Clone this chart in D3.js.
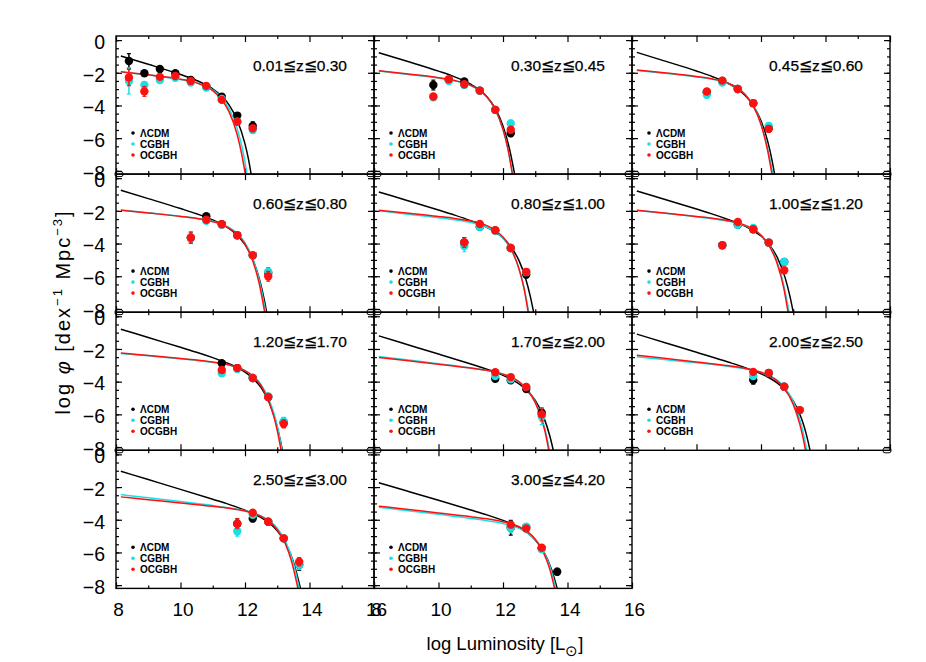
<!DOCTYPE html>
<html>
<head>
<meta charset="utf-8">
<script src="https://cdn.jsdelivr.net/npm/d3@7"></script>
<style>
  body { margin: 0; background: #fff; }
  svg { display: block; }
</style>
</head>
<body>
<div id="figure"></div>
<script>
var zLabels = ["0.01≦z≦0.30", "0.30≦z≦0.45", "0.45≦z≦0.60",
               "0.60≦z≦0.80", "0.80≦z≦1.00", "1.00≦z≦1.20",
               "1.20≦z≦1.70", "1.70≦z≦2.00", "2.00≦z≦2.50",
               "2.50≦z≦3.00", "3.00≦z≦4.20"];

var modelNames = ["ΛCDM", "CGBH", "OCGBH"];
var modelColors = ["#000000", "#17e0e6", "#ff1010"];

var xTicks = [8, 10, 12, 14, 16];
var xMinor = [9, 11, 13, 15];
var yTicks = [0, -2, -4, -6, -8];

// fitted curves, one list per panel: [log L, log phi]
var lcdmFit = [
  [[8.15,-0.97],[9,-1.48],[10,-2.11],[10.5,-2.47],[11,-2.99],[11.25,-3.38],[11.5,-3.95],[11.75,-4.86],[12,-6.35],[12.1,-7.21],[12.19,-8.2]],
  [[8.15,-0.77],[9,-1.28],[10,-1.9],[10.5,-2.25],[11,-2.7],[11.25,-3.02],[11.5,-3.47],[11.75,-4.15],[12,-5.26],[12.2,-6.65],[12.36,-8.2]],
  [[8.15,-0.75],[9,-1.27],[10,-1.89],[10.5,-2.24],[11,-2.67],[11.25,-2.96],[11.5,-3.38],[11.75,-3.98],[12,-4.94],[12.2,-6.14],[12.35,-7.44],[12.42,-8.2]],
  [[8.15,-0.74],[9,-1.25],[10,-1.86],[10.5,-2.18],[11,-2.55],[11.25,-2.78],[11.5,-3.07],[11.75,-3.47],[12,-4.07],[12.25,-5.01],[12.45,-6.19],[12.6,-7.46],[12.67,-8.2]],
  [[8.15,-0.84],[9,-1.35],[10,-1.95],[10.5,-2.26],[11,-2.6],[11.25,-2.79],[11.5,-3.01],[11.75,-3.29],[12,-3.66],[12.25,-4.21],[12.5,-5.06],[12.7,-6.12],[12.85,-7.26],[12.95,-8.2]],
  [[8.15,-0.78],[9,-1.29],[10,-1.89],[10.5,-2.2],[11,-2.54],[11.25,-2.72],[11.5,-2.93],[11.75,-3.2],[12,-3.54],[12.25,-4.05],[12.5,-4.83],[12.75,-6.1],[12.9,-7.25],[13.0,-8.2]],
  [[8.15,-0.79],[9,-1.3],[10,-1.9],[10.5,-2.2],[11,-2.53],[11.5,-2.9],[11.75,-3.12],[12,-3.41],[12.25,-3.8],[12.5,-4.37],[12.75,-5.28],[12.95,-6.41],[13.1,-7.63],[13.16,-8.2]],
  [[8.15,-1.2],[9,-1.71],[10,-2.31],[11,-2.92],[11.5,-3.24],[12,-3.61],[12.25,-3.84],[12.5,-4.14],[12.75,-4.55],[13,-5.15],[13.25,-6.11],[13.45,-7.31],[13.56,-8.2]],
  [[8.15,-1.09],[9,-1.6],[10,-2.2],[11,-2.81],[11.5,-3.14],[12,-3.52],[12.25,-3.76],[12.5,-4.07],[12.75,-4.51],[13,-5.17],[13.25,-6.23],[13.4,-7.18],[13.52,-8.2]],
  [[8.15,-1.03],[9,-1.54],[10,-2.14],[11,-2.75],[11.5,-3.06],[12,-3.41],[12.25,-3.62],[12.5,-3.87],[12.75,-4.2],[13,-4.68],[13.25,-5.4],[13.5,-6.57],[13.72,-8.2]],
  [[8.15,-1.74],[9,-2.23],[10,-2.81],[11,-3.4],[11.5,-3.7],[12,-4.04],[12.25,-4.23],[12.5,-4.48],[12.75,-4.79],[13,-5.24],[13.25,-5.91],[13.5,-7.02],[13.68,-8.2]]
];

var cgbhFit = [
  [[8.15,-1.95],[9,-2.14],[10,-2.41],[10.5,-2.62],[11,-3.05],[11.25,-3.47],[11.5,-4.16],[11.75,-5.37],[11.9,-6.48],[12,-7.46],[12.06,-8.2]],
  [[8.15,-1.89],[9,-2.09],[10,-2.32],[10.5,-2.49],[11,-2.79],[11.25,-3.06],[11.5,-3.49],[11.75,-4.22],[12,-5.48],[12.15,-6.64],[12.3,-8.2]],
  [[8.15,-1.86],[9,-2.03],[10,-2.26],[10.5,-2.4],[11,-2.67],[11.25,-2.91],[11.5,-3.31],[11.75,-3.97],[12,-5.1],[12.2,-6.6],[12.37,-8.2]],
  [[8.15,-1.95],[9,-2.12],[10,-2.33],[10.5,-2.45],[11,-2.64],[11.25,-2.78],[11.5,-3.01],[11.75,-3.36],[12,-3.95],[12.25,-4.97],[12.45,-6.3],[12.6,-7.75],[12.64,-8.2]],
  [[8.15,-2.0],[9,-2.19],[10,-2.42],[10.5,-2.55],[11,-2.71],[11.25,-2.83],[11.5,-3.0],[11.75,-3.26],[12,-3.68],[12.25,-4.37],[12.5,-5.58],[12.65,-6.69],[12.8,-8.2]],
  [[8.15,-1.98],[9,-2.15],[10,-2.36],[10.5,-2.48],[11,-2.64],[11.25,-2.75],[11.5,-2.9],[11.75,-3.12],[12,-3.48],[12.25,-4.08],[12.5,-5.12],[12.7,-6.48],[12.87,-8.2]],
  [[8.15,-2.27],[9,-2.42],[10,-2.6],[10.5,-2.7],[11,-2.82],[11.5,-2.98],[11.75,-3.12],[12,-3.32],[12.25,-3.64],[12.5,-4.18],[12.75,-5.12],[12.9,-5.95],[13.0,-6.72],[13.15,-8.2]],
  [[8.15,-2.46],[9,-2.66],[10,-2.9],[11,-3.16],[11.5,-3.31],[12,-3.54],[12.25,-3.73],[12.5,-4.01],[12.75,-4.47],[13,-5.23],[13.2,-6.22],[13.3,-6.9],[13.44,-8.2]],
  [[8.15,-2.48],[9,-2.65],[10,-2.85],[11,-3.07],[11.5,-3.21],[12,-3.43],[12.25,-3.62],[12.5,-3.91],[12.75,-4.4],[13,-5.22],[13.2,-6.3],[13.3,-7.05],[13.42,-8.2]],
  [[8.15,-2.46],[9,-2.66],[10,-2.89],[11,-3.13],[11.5,-3.27],[12,-3.44],[12.25,-3.58],[12.5,-3.76],[12.75,-4.05],[13,-4.51],[13.25,-5.29],[13.5,-6.64],[13.68,-8.2]],
  [[8.15,-3.23],[9,-3.43],[10,-3.67],[11,-3.92],[11.5,-4.06],[12,-4.23],[12.25,-4.36],[12.5,-4.53],[12.75,-4.8],[13,-5.22],[13.25,-5.92],[13.45,-6.83],[13.64,-8.2]]
];

var ocgbhFit = [
  [[8.15,-1.93],[9,-2.12],[10,-2.39],[10.5,-2.62],[11,-3.09],[11.25,-3.57],[11.5,-4.36],[11.75,-5.73],[11.9,-7.0],[12.01,-8.2]],
  [[8.15,-1.87],[9,-2.06],[10,-2.3],[10.5,-2.47],[11,-2.77],[11.25,-3.04],[11.5,-3.47],[11.75,-4.2],[12,-5.46],[12.15,-6.62],[12.29,-8.2]],
  [[8.15,-1.83],[9,-2.0],[10,-2.23],[10.5,-2.38],[11,-2.65],[11.25,-2.9],[11.5,-3.31],[11.75,-3.99],[12,-5.16],[12.2,-6.7],[12.34,-8.2]],
  [[8.15,-1.96],[9,-2.13],[10,-2.34],[10.5,-2.47],[11,-2.66],[11.25,-2.81],[11.5,-3.05],[11.75,-3.42],[12,-4.04],[12.25,-5.11],[12.45,-6.52],[12.61,-8.2]],
  [[8.15,-1.96],[9,-2.13],[10,-2.34],[10.5,-2.46],[11,-2.62],[11.25,-2.73],[11.5,-2.9],[11.75,-3.17],[12,-3.6],[12.25,-4.32],[12.5,-5.57],[12.65,-6.73],[12.78,-8.2]],
  [[8.15,-1.96],[9,-2.13],[10,-2.34],[10.5,-2.45],[11,-2.61],[11.25,-2.72],[11.5,-2.87],[11.75,-3.1],[12,-3.49],[12.25,-4.12],[12.5,-5.22],[12.7,-6.66],[12.84,-8.2]],
  [[8.15,-2.25],[9,-2.4],[10,-2.58],[10.5,-2.68],[11,-2.8],[11.5,-2.97],[11.75,-3.12],[12,-3.33],[12.25,-3.68],[12.5,-4.25],[12.75,-5.26],[12.9,-6.17],[13.0,-6.99],[13.12,-8.2]],
  [[8.15,-2.52],[9,-2.71],[10,-2.93],[11,-3.17],[11.5,-3.31],[12,-3.54],[12.25,-3.72],[12.5,-4.01],[12.75,-4.48],[13,-5.28],[13.2,-6.31],[13.3,-7.02],[13.42,-8.2]],
  [[8.15,-2.38],[9,-2.57],[10,-2.79],[11,-3.03],[11.5,-3.18],[12,-3.42],[12.25,-3.63],[12.5,-3.95],[12.75,-4.49],[13,-5.39],[13.2,-6.58],[13.3,-7.39],[13.38,-8.2]],
  [[8.15,-2.6],[9,-2.77],[10,-2.97],[11,-3.18],[11.5,-3.3],[12,-3.47],[12.25,-3.6],[12.5,-3.8],[12.75,-4.1],[13,-4.61],[13.25,-5.47],[13.45,-6.59],[13.64,-8.2]],
  [[8.15,-3.17],[9,-3.36],[10,-3.58],[11,-3.81],[11.5,-3.94],[12,-4.12],[12.25,-4.24],[12.5,-4.43],[12.75,-4.71],[13,-5.19],[13.25,-5.98],[13.45,-7.02],[13.6,-8.2]]
];

// measured points: [log L, log phi, error]
var lcdmData = [
  [[8.40,-1.28,0.45],[8.88,-2.03,0.15],[9.36,-1.77,0.08],[9.84,-2.03,0.08],[10.32,-2.44,0.08],[10.80,-2.85,0.08],[11.28,-3.46,0.1],[11.76,-4.62,0.15],[12.24,-5.25,0.25]],
  [[9.84,-2.75,0.3],[10.32,-2.45,0.05],[10.80,-2.53,0.05],[11.28,-3.09,0.05],[11.76,-4.27,0.1],[12.24,-5.7,0.2]],
  [[10.32,-3.2,0.15],[10.80,-2.5,0.05],[11.28,-2.99,0.05],[11.76,-3.86,0.08],[12.24,-5.4,0.2]],
  [[10.32,-3.64,0.3],[10.80,-2.33,0.05],[11.28,-2.82,0.05],[11.76,-3.49,0.05],[12.24,-4.72,0.1],[12.72,-5.8,0.3]],
  [[10.80,-3.94,0.3],[11.28,-2.98,0.05],[11.76,-3.2,0.05],[12.24,-4.27,0.08],[12.72,-5.9,0.2]],
  [[10.80,-4.1,0.15],[11.28,-2.85,0.05],[11.76,-3.12,0.05],[12.24,-3.94,0.05],[12.72,-5.12,0.1]],
  [[11.28,-2.87,0.1],[11.76,-3.17,0.05],[12.24,-3.78,0.05],[12.72,-4.94,0.1],[13.20,-6.5,0.3]],
  [[11.76,-3.82,0.1],[12.24,-3.92,0.05],[12.72,-4.45,0.08],[13.20,-5.9,0.25]],
  [[11.76,-3.9,0.25],[12.24,-3.5,0.05],[12.72,-4.31,0.08],[13.20,-5.74,0.1]],
  [[11.76,-4.25,0.3],[12.24,-3.92,0.2],[12.72,-4.12,0.08],[13.20,-5.14,0.1],[13.68,-6.75,0.35]],
  [[12.24,-4.49,0.45],[12.72,-4.45,0.1],[13.20,-5.75,0.1],[13.68,-7.18,0.2]]
];

var cgbhData = [
  [[8.40,-2.5,0.8],[8.88,-2.74,0.2],[9.36,-2.44,0.1],[9.84,-2.3,0.1],[10.32,-2.6,0.08],[10.80,-2.9,0.08],[11.28,-3.6,0.1],[11.76,-5.0,0.15],[12.24,-5.5,0.2]],
  [[9.84,-3.5,0.15],[10.32,-2.5,0.05],[10.80,-2.75,0.05],[11.28,-3.09,0.05],[11.76,-4.27,0.1],[12.24,-5.1,0.2]],
  [[10.32,-3.35,0.2],[10.80,-2.6,0.05],[11.28,-2.99,0.05],[11.76,-3.86,0.08],[12.24,-5.25,0.2]],
  [[10.32,-3.64,0.3],[10.80,-2.6,0.05],[11.28,-2.85,0.05],[11.76,-3.5,0.05],[12.24,-4.72,0.1],[12.72,-5.73,0.2]],
  [[10.80,-4.15,0.35],[11.28,-2.98,0.05],[11.76,-3.2,0.05],[12.24,-4.27,0.08],[12.72,-5.75,0.2]],
  [[10.80,-4.1,0.15],[11.28,-2.85,0.05],[11.76,-3.05,0.05],[12.24,-3.94,0.05],[12.72,-5.12,0.1]],
  [[11.28,-3.48,0.15],[11.76,-3.22,0.05],[12.24,-3.78,0.05],[12.72,-4.9,0.1],[13.20,-6.43,0.25]],
  [[11.76,-3.65,0.1],[12.24,-3.85,0.05],[12.72,-4.33,0.08],[13.20,-6.13,0.5]],
  [[11.76,-3.65,0.15],[12.24,-3.46,0.05],[12.72,-4.31,0.08],[13.20,-5.74,0.1]],
  [[11.76,-4.7,0.3],[12.24,-3.7,0.1],[12.72,-4.12,0.08],[13.20,-5.14,0.1],[13.68,-6.75,0.3]],
  [[12.24,-4.49,0.3],[12.72,-4.43,0.1],[13.20,-5.8,0.1]]
];

var ocgbhData = [
  [[8.40,-2.29,0.5],[8.88,-3.14,0.3],[9.36,-2.25,0.1],[9.84,-2.2,0.1],[10.32,-2.5,0.08],[10.80,-2.8,0.08],[11.28,-3.66,0.1],[11.76,-5.0,0.15],[12.24,-5.4,0.2]],
  [[9.84,-3.45,0.15],[10.32,-2.4,0.05],[10.80,-2.7,0.05],[11.28,-3.09,0.05],[11.76,-4.27,0.1],[12.24,-5.49,0.2]],
  [[10.32,-3.15,0.15],[10.80,-2.48,0.05],[11.28,-2.99,0.05],[11.76,-3.86,0.08],[12.24,-5.43,0.2]],
  [[10.32,-3.64,0.35],[10.80,-2.54,0.05],[11.28,-2.82,0.05],[11.76,-3.49,0.05],[12.24,-4.72,0.1],[12.72,-6.0,0.3]],
  [[10.80,-3.94,0.3],[11.28,-2.8,0.05],[11.76,-3.18,0.05],[12.24,-4.27,0.08],[12.72,-5.73,0.2]],
  [[10.80,-4.1,0.15],[11.28,-2.68,0.05],[11.76,-3.12,0.05],[12.24,-3.94,0.05],[12.72,-5.63,0.15]],
  [[11.28,-3.29,0.15],[11.76,-3.17,0.05],[12.24,-3.78,0.05],[12.72,-4.94,0.1],[13.20,-6.58,0.25]],
  [[11.76,-3.42,0.08],[12.24,-3.72,0.05],[12.72,-4.33,0.08],[13.20,-6.0,0.4]],
  [[11.76,-3.4,0.1],[12.24,-3.46,0.05],[12.72,-4.31,0.08],[13.20,-5.74,0.1]],
  [[11.76,-4.25,0.3],[12.24,-3.57,0.08],[12.72,-4.12,0.08],[13.20,-5.14,0.1],[13.68,-6.57,0.25]],
  [[12.24,-4.3,0.1],[12.72,-4.53,0.1],[13.20,-5.71,0.1]]
];

var W = 926, H = 662;
var gauche = 116, haut = 36, largeur = 258, hauteur = 138.1;
var police = "'Liberation Sans', Arial, Helvetica, sans-serif";

var svg = d3.select("#figure").append("svg").attr("width", W).attr("height", H);
var defs = svg.append("defs");

var fits = [lcdmFit, cgbhFit, ocgbhFit];
var donnees = [lcdmData, cgbhData, ocgbhData];

function styleAxe(g) {
    g.select(".domain").remove();
    g.selectAll("line").attr("stroke", "#000").attr("stroke-width", 1.2);
}

for (var i = 0; i < zLabels.length; i++) {
    var col = i % 3;
    var ligne = Math.floor(i / 3);
    var x0 = gauche + col * largeur;
    var y0 = haut + ligne * hauteur;

    var x = d3.scaleLinear().domain([8, 16]).range([x0, x0 + largeur]);
    var y = d3.scaleLinear().domain([-8.2, 0.25]).range([y0 + hauteur, y0]);

    defs.append("clipPath").attr("id", "clip" + i)
        .append("rect").attr("x", x0).attr("y", y0).attr("width", largeur).attr("height", hauteur);

    var panneau = svg.append("g");

    // ticks pointing inward on all four sides
    var yMinor = d3.range(-8, 0.01, 0.5);
    panneau.append("g").attr("transform", "translate(" + x0 + ",0)")
        .call(d3.axisLeft(y).tickValues(yMinor).tickSize(-3).tickFormat("")).call(styleAxe);
    panneau.append("g").attr("transform", "translate(" + x0 + ",0)")
        .call(d3.axisLeft(y).tickValues(yTicks).tickSize(-6).tickFormat("")).call(styleAxe);
    panneau.append("g").attr("transform", "translate(" + (x0 + largeur) + ",0)")
        .call(d3.axisRight(y).tickValues(yMinor).tickSize(-3).tickFormat("")).call(styleAxe);
    panneau.append("g").attr("transform", "translate(" + (x0 + largeur) + ",0)")
        .call(d3.axisRight(y).tickValues(yTicks).tickSize(-6).tickFormat("")).call(styleAxe);
    panneau.append("g").attr("transform", "translate(0," + (y0 + hauteur) + ")")
        .call(d3.axisBottom(x).tickValues(xMinor).tickSize(-3).tickFormat("")).call(styleAxe);
    panneau.append("g").attr("transform", "translate(0," + (y0 + hauteur) + ")")
        .call(d3.axisBottom(x).tickValues(xTicks).tickSize(-6).tickFormat("")).call(styleAxe);
    panneau.append("g").attr("transform", "translate(0," + y0 + ")")
        .call(d3.axisTop(x).tickValues(xMinor).tickSize(-3).tickFormat("")).call(styleAxe);
    panneau.append("g").attr("transform", "translate(0," + y0 + ")")
        .call(d3.axisTop(x).tickValues(xTicks).tickSize(-6).tickFormat("")).call(styleAxe);

    if (col == 0) {
        panneau.append("g").attr("transform", "translate(" + x0 + ",2)")
            .call(d3.axisLeft(y).tickValues(yTicks).tickSize(0).tickPadding(11))
            .call(function(g) {
                g.select(".domain").remove();
                g.selectAll("text").attr("font-family", police).attr("font-size", 19.5).attr("fill", "#000");
            });
    }
    if (ligne == 3) {
        panneau.append("g").attr("transform", "translate(2," + (y0 + hauteur) + ")")
            .call(d3.axisBottom(x).tickValues(xTicks).tickSize(0).tickPadding(14))
            .call(function(g) {
                g.select(".domain").remove();
                g.selectAll("text").attr("font-family", police).attr("font-size", 19).attr("fill", "#000");
            });
    }

    // model curves
    var courbe = d3.line().x(function(d) { return x(d[0]); }).y(function(d) { return y(d[1]); })
        .curve(d3.curveMonotoneX);
    var zone = panneau.append("g").attr("clip-path", "url(#clip" + i + ")");
    for (var m = 0; m < 3; m++) {
        zone.append("path").attr("d", courbe(fits[m][i]))
            .attr("fill", "none").attr("stroke", modelColors[m]).attr("stroke-width", 1.5);
    }

    // data points with error bars
    for (var m = 0; m < 3; m++) {
        var pts = donnees[m][i];
        for (var p = 0; p < pts.length; p++) {
            var px = x(pts[p][0]);
            var haute = y(pts[p][1] + pts[p][2]);
            var basse = y(pts[p][1] - pts[p][2]);
            zone.append("line").attr("x1", px).attr("x2", px).attr("y1", haute).attr("y2", basse)
                .attr("stroke", modelColors[m]).attr("stroke-width", 1.5);
            zone.append("line").attr("x1", px - 2).attr("x2", px + 2).attr("y1", haute).attr("y2", haute)
                .attr("stroke", modelColors[m]).attr("stroke-width", 1.2);
            zone.append("line").attr("x1", px - 2).attr("x2", px + 2).attr("y1", basse).attr("y2", basse)
                .attr("stroke", modelColors[m]).attr("stroke-width", 1.2);
            zone.append("circle").attr("cx", px).attr("cy", y(pts[p][1])).attr("r", 4.2)
                .attr("fill", modelColors[m]);
        }
    }

    // frame
    panneau.append("rect").attr("x", x0).attr("y", y0).attr("width", largeur).attr("height", hauteur)
        .attr("fill", "none").attr("stroke", "#000").attr("stroke-width", 1.4);

    // little marks at the lower corners, where panels meet
    if (ligne < 3) {
        panneau.append("rect").attr("x", x0 - 1).attr("y", y0 + hauteur - 2.5).attr("width", 8).attr("height", 5)
            .attr("rx", 2).attr("fill", "none").attr("stroke", "#000").attr("stroke-width", 1);
        panneau.append("rect").attr("x", x0 + largeur - 7).attr("y", y0 + hauteur - 2.5).attr("width", 8).attr("height", 5)
            .attr("rx", 2).attr("fill", "none").attr("stroke", "#000").attr("stroke-width", 1);
    }

    // redshift label
    panneau.append("text").attr("x", x0 + largeur - 27).attr("y", y0 + 34.5)
        .attr("text-anchor", "end").attr("font-family", police).attr("font-size", 15.5)
        .attr("stroke", "#000").attr("stroke-width", 0.25)
        .text(zLabels[i]);

    // legend
    for (var m = 0; m < 3; m++) {
        var ly = y0 + 97 + m * 11;
        panneau.append("circle").attr("cx", x0 + 17).attr("cy", ly).attr("r", 1.8).attr("fill", modelColors[m]);
        panneau.append("text").attr("x", x0 + 24).attr("y", ly + 3.5)
            .attr("font-family", police).attr("font-size", 10).attr("font-weight", "bold")
            .text(modelNames[m]);
    }
}

// axis titles
var titreX = svg.append("text").attr("x", 505).attr("y", 650).attr("text-anchor", "middle")
    .attr("font-family", police).attr("font-size", 18.5);
titreX.append("tspan").text("log Luminosity [L");
titreX.append("tspan").attr("dy", 6).attr("font-size", 15).text("⊙");
titreX.append("tspan").attr("dy", -6).text("]");

var titreY = svg.append("text").attr("transform", "translate(70,312) rotate(-90)").attr("text-anchor", "middle")
    .attr("font-family", police).attr("font-size", 20).attr("letter-spacing", 2);
titreY.append("tspan").text("log ");
titreY.append("tspan").attr("font-style", "italic").text("φ");
titreY.append("tspan").text(" [dex");
titreY.append("tspan").attr("dy", -8).attr("font-size", 13).text("−1");
titreY.append("tspan").attr("dy", 8).text(" Mpc");
titreY.append("tspan").attr("dy", -8).attr("font-size", 13).text("−3");
titreY.append("tspan").attr("dy", 8).text("]");
</script>
</body>
</html>
